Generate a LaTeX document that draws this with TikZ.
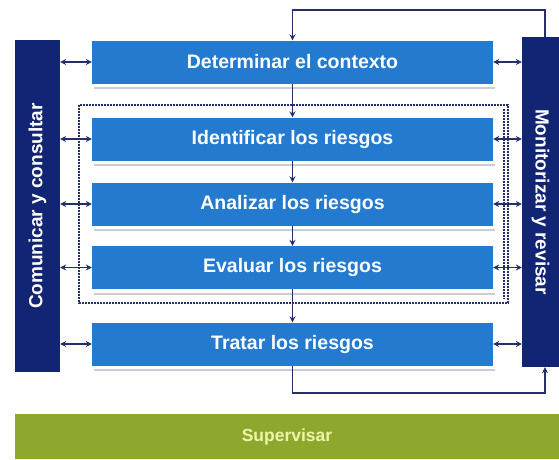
\documentclass[tikz,border=0pt]{standalone}
\usepackage{fontspec}
\setmainfont{Liberation Sans}
\usetikzlibrary{arrows.meta}
\definecolor{boxblue}{RGB}{36,122,206}
\definecolor{navybar}{RGB}{18,36,116}
\definecolor{arrcol}{RGB}{36,48,104}
\definecolor{supgreen}{RGB}{141,168,44}
\definecolor{suptext}{RGB}{240,244,170}
\definecolor{shadowgray}{RGB}{200,205,215}
\tikzset{
  stagebox/.style={fill=boxblue, draw=none, minimum width=401pt, minimum height=43pt,
    inner sep=0pt, text=white, font=\bfseries\fontsize{19.5}{21}\selectfont},
  sidebar/.style={fill=navybar, draw=none, inner sep=0pt},
  sidetext/.style={text=white, font=\bfseries\fontsize{19}{21}\selectfont},
  flow/.style={draw=arrcol, line width=1.5pt, -{Stealth[length=6pt,width=6pt]}},
  link/.style={draw=arrcol, line width=1.5pt, {Stealth[length=6pt,width=6pt]}-{Stealth[length=6pt,width=6pt]}},
  frame/.style={draw=arrcol, line width=1.4pt, dash pattern=on 2pt off 1pt},
  shadowline/.style={draw=shadowgray, line width=1.5pt}
}
\begin{document}
\begin{tikzpicture}[x=1pt,y=-1pt]
\useasboundingbox (0,0) rectangle (559,459);
\fill[white] (0,0) rectangle (559,459);

% dashed frame
\draw[frame] (79,105) rectangle (508,303);
\draw[frame] (504,109) -- (504,299);

% side bars
\node[sidebar, minimum width=45pt, minimum height=332pt] (lb) at (37.5,206) {};
\node[sidetext, rotate=90] (lbt) at (lb.center) {Comunicar y consultar};
\node[sidebar, minimum width=37pt, minimum height=330pt] (rb) at (540.5,202) {};
\node[sidetext, rotate=-90] (rbt) at (rb.center) {Monitorizar y revisar};

% stage boxes
\draw[shadowline] (94,88) -- (495,88);
\draw[shadowline] (94,165) -- (495,165);
\draw[shadowline] (94,230) -- (495,230);
\draw[shadowline] (94,294) -- (495,294);
\draw[shadowline] (94,370) -- (495,370);
\node[stagebox] (det) at (292.5,62) {Determinar el contexto};
\node[stagebox] (ide) at (292.5,139) {Identificar los riesgos};
\node[stagebox] (ana) at (292.5,204) {Analizar los riesgos};
\node[stagebox] (eva) at (292.5,267.5) {Evaluar los riesgos};
\node[stagebox] (tra) at (292.5,344) {Tratar los riesgos};

% supervisar
\node[fill=supgreen, minimum width=544pt, minimum height=45pt, inner sep=0pt,
  text=suptext, font=\bfseries\fontsize{17.5}{19}\selectfont] (sup) at (287,436.5) {Supervisar};

% vertical flow
\draw[flow] (det.south) -- (ide.north);
\draw[flow] (ide.south) -- (ana.north);
\draw[flow] (ana.south) -- (eva.north);
\draw[flow] (eva.south) -- (tra.north);

% loops
\coordinate (tl) at (545,10);
\coordinate (bl) at (545,393);
\draw[flow] (rb.north -| tl) -- (tl) -| (det.north);
\draw[flow] (tra.south) |- (bl) -- (rb.south -| bl);

% side links
\foreach \n in {det,ide,ana,eva,tra}{
  \draw[link] (lb.east |- \n.west) -- (\n.west);
  \draw[link] (\n.east) -- (rb.west |- \n.east);
}
\end{tikzpicture}
\end{document}
